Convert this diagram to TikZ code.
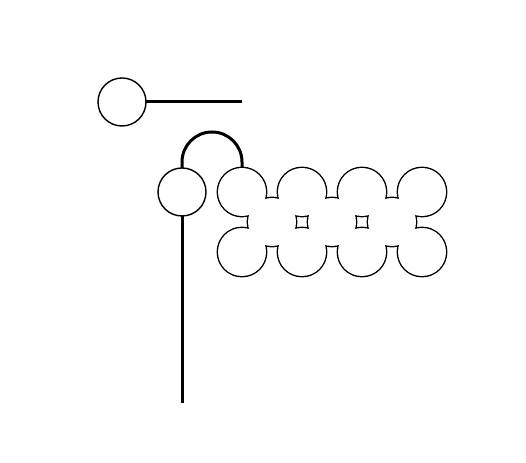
\documentclass[tikz,border=0pt]{standalone}
\begin{document}
\begin{tikzpicture}[x=1pt,y=1pt,
  ball/.style={circle,draw,line width=1.4pt,minimum size=48pt,inner sep=0pt,outer sep=0pt,fill=white},
  blob/.style={circle,draw,line width=2.8pt,minimum size=48pt,inner sep=0pt,outer sep=0pt},
  bond/.style={line width=3pt},
  cover/.style={fill=white}]
\useasboundingbox (0,0) rectangle (526,462);
% top-left ball with stick
\node[ball] (a) at (122,360) {};
\coordinate (aend) at (242,360);
\draw[bond] (a.east) -- (aend);
% vertical ball with long stick
\node[ball] (b) at (182,270) {};
\coordinate (bend) at (182,59);
\draw[bond] (b.south) -- (bend);
% merged cluster
\foreach \n/\x/\y in {c1/242/270,c2/302/270,c3/362/270,c4/422/270,
                      d1/242/210,d2/302/210,d3/362/210,d4/422/210,
                      m1/272/240,m2/332/240,m3/392/240}
  \node[blob] (\n) at (\x,\y) {};
\foreach \n in {c1,c2,c3,c4,d1,d2,d3,d4,m1,m2,m3}
  \fill[cover] (\n.center) circle (24);
% arch connecting b and c1
\draw[bond] (b.north) -- ++(0,6) arc[start angle=180,end angle=0,radius=30] -- (c1.north);
\end{tikzpicture}
\end{document}
